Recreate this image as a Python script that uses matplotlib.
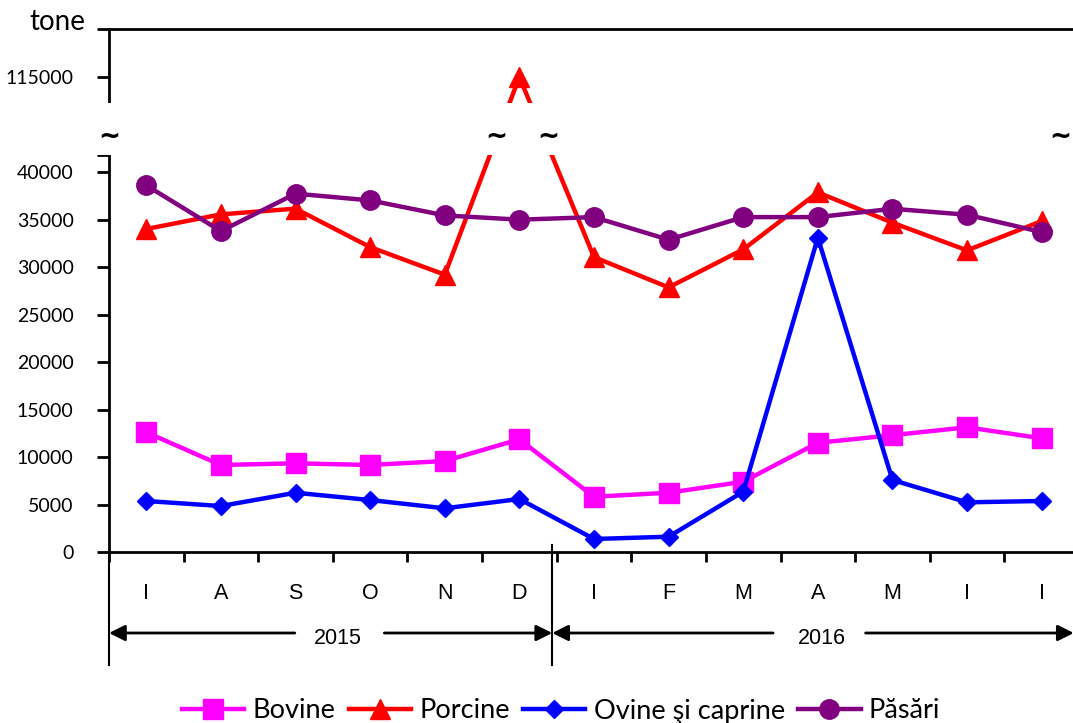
import numpy as np
import matplotlib
matplotlib.use('Agg')
import matplotlib.pyplot as plt
from matplotlib.patches import Rectangle
from matplotlib.transforms import blended_transform_factory

plt.rcParams['font.family'] = ['Lato', 'DejaVu Sans']

# date (tone)
luni = ['I', 'A', 'S', 'O', 'N', 'D', 'I', 'F', 'M', 'A', 'M', 'I', 'I']
bovine = [12600, 9160, 9340, 9160, 9580, 11860, 5820, 6240, 7400, 11500, 12300, 13130, 11970]
porcine = [34010, 35550, 36150, 32100, 29200, 115000, 31050, 27860, 31860, 37860, 34670, 31760, 34840]
ovine = [5370, 4840, 6240, 5470, 4600, 5580, 1370, 1610, 6350, 33090, 7580, 5230, 5370]
pasari = [38600, 33790, 37730, 37020, 35440, 34990, 35260, 32880, 35260, 35260, 36140, 35510, 33680]
ani = ['2015', '2016']
yticks_jos = [0, 5000, 10000, 15000, 20000, 25000, 30000, 35000, 40000]
ytick_sus = 115000

# axa y intrerupta: scala pe bucati
val_brk = [0, 41800, 112270, 120000]
pix_brk = [0, 397, 449, 522.7]


def fwd(v):
    v = np.asarray(v, dtype=float)
    out = np.interp(v, val_brk, pix_brk)
    out = np.where(v < 0, v * 0.0095, out)
    out = np.where(v > 120000, 522.7 + (v - 120000) * 0.0095, out)
    return out


def inv(p):
    p = np.asarray(p, dtype=float)
    out = np.interp(p, pix_brk, val_brk)
    out = np.where(p < 0, p / 0.0095, out)
    out = np.where(p > 522.7, 120000 + (p - 522.7) / 0.0095, out)
    return out


W, H = 1073, 723
fig = plt.figure(figsize=(W / 100, H / 100), dpi=100)
ax = fig.add_axes([109 / W, (H - 552) / H, 970 / W, 522.7 / H])

x = np.arange(len(luni))
ax.plot(x, bovine, color='#FF00FF', lw=3.2, marker='s', ms=14, label='Bovine', zorder=2)
ax.plot(x, porcine, color='#FF0000', lw=3.2, marker='^', ms=14, label='Porcine', zorder=2)
ax.plot(x, ovine, color='#0000FF', lw=3.2, marker='D', ms=9.5, label='Ovine şi caprine', zorder=2)
ax.plot(x, pasari, color='#800080', lw=3.2, marker='o', ms=14, label='Păsări', zorder=2)

ax.set_yscale('function', functions=(fwd, inv))
ax.set_ylim(0, 120000)
ax.set_xlim(-0.5, 12.5)

ax.set_yticks(yticks_jos + [41800, ytick_sus, 120000])
ax.set_yticklabels([str(v) for v in yticks_jos] + ['', str(ytick_sus), ''])
ax.tick_params(axis='y', length=9, width=2, pad=16.5, labelsize=14)

ax.set_xticks(x)
ax.set_xticklabels(luni, family='Liberation Sans')
ax.set_xticks(np.arange(-0.5, 13, 1), minor=True)
ax.tick_params(axis='x', which='major', length=0, pad=22, labelsize=15.5)
ax.tick_params(axis='x', which='minor', length=7, width=2)

for s in ['left', 'bottom', 'top']:
    ax.spines[s].set_linewidth(2)
ax.spines['right'].set_visible(False)

# banda alba a intreruperii
tr_y = blended_transform_factory(ax.transAxes, ax.transData)
ax.add_patch(Rectangle((-0.03, 41950), 1.1, 112270 - 41950, transform=tr_y,
                       facecolor='white', edgecolor='none', zorder=3, clip_on=False))

tr = blended_transform_factory(ax.transData, ax.transAxes)
y_tilda = (552 - 137) / 522.7
for xt in [-0.5, 4.69, 5.39, 12.25]:
    ax.text(xt, y_tilda, '~', transform=tr, ha='center', va='center', fontsize=19,
            fontweight='bold', family='DejaVu Sans', zorder=4, clip_on=False)

# linii verticale sub axa
y_jos = (552 - 665) / 522.7
ax.plot([-0.5, -0.5], [0, y_jos], transform=tr, color='black', lw=1.5, clip_on=False)
ax.plot([5.44, 5.44], [0.013, y_jos], transform=tr, color='black', lw=1.5, clip_on=False)

# sagetile cu anii
y_sag = (552 - 633) / 522.7
y_an = (552 - 638) / 522.7
sageti = [(2.57, -0.5, 1.99, 3.19, 5.44), (9.06, 5.44, 8.40, 9.64, 12.43)]
for an, (xc, x0, g0, g1, x1) in zip(ani, sageti):
    props = dict(arrowstyle='-|>,head_length=0.6,head_width=0.3', color='black', lw=2,
                 mutation_scale=16, shrinkA=0, shrinkB=0)
    ax.annotate('', xy=(x0, y_sag), xytext=(g0, y_sag), xycoords=tr, textcoords=tr,
                arrowprops=props, annotation_clip=False)
    ax.annotate('', xy=(x1, y_sag), xytext=(g1, y_sag), xycoords=tr, textcoords=tr,
                arrowprops=props, annotation_clip=False)
    ax.text(xc, y_an, an, transform=tr, ha='center', va='center', fontsize=15.5,
            family='Liberation Sans')

fig.text(57 / W, 1 - 22 / H, 'tone', ha='center', va='center', fontsize=20)

ax.legend(loc='center', bbox_to_anchor=(561 / W, 12 / H), bbox_transform=fig.transFigure,
          ncol=4, frameon=False, fontsize=19.5, handlelength=2.3, handletextpad=0.3,
          columnspacing=0.5, numpoints=1)

fig.savefig('out.png', dpi=100)
